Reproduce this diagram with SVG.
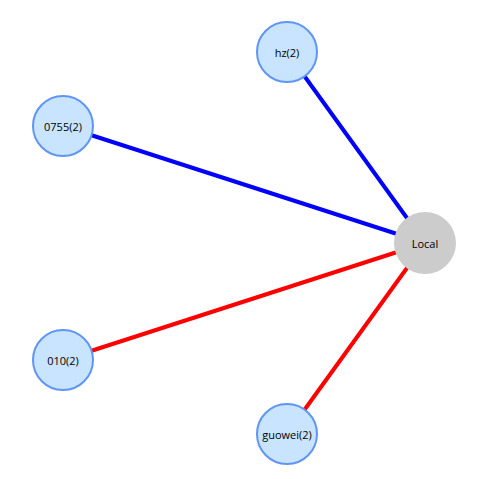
<svg xmlns="http://www.w3.org/2000/svg" width="477" height="479" viewBox="0 0 477 479">
<style>
.n circle{fill:#c8e4ff;stroke:#5f95f5;stroke-width:2}
.l circle{fill:#cccccc}
text{font-family:"Open Sans","Noto Sans","Liberation Sans",sans-serif;font-size:11px;fill:#000;text-anchor:middle;dominant-baseline:central}
.e{stroke-width:4;fill:none}
.b{stroke:#0000ff}
.r{stroke:#ff0000}
</style>
<rect width="477" height="479" fill="#fff"/>
<g id="connectors">
<line class="e b" x1="287" y1="52" x2="425" y2="243"/>
<line class="e b" x1="63" y1="126" x2="425" y2="243"/>
<line class="e r" x1="63" y1="360" x2="425" y2="243"/>
<line class="e r" x1="287" y1="434" x2="425" y2="243"/>
</g>
<g id="node-hz" class="n"><circle cx="287" cy="52" r="30"/><text x="287" y="52">hz(2)</text></g>
<g id="node-0755" class="n"><circle cx="63" cy="126" r="30"/><text x="63" y="126">0755(2)</text></g>
<g id="node-010" class="n"><circle cx="63" cy="360" r="30"/><text x="63" y="360">010(2)</text></g>
<g id="node-guowei" class="n"><circle cx="287" cy="434" r="30"/><text x="287" y="434">guowei(2)</text></g>
<g id="node-local" class="l"><circle cx="425" cy="243" r="31"/><text x="425" y="243">Local</text></g>
</svg>
